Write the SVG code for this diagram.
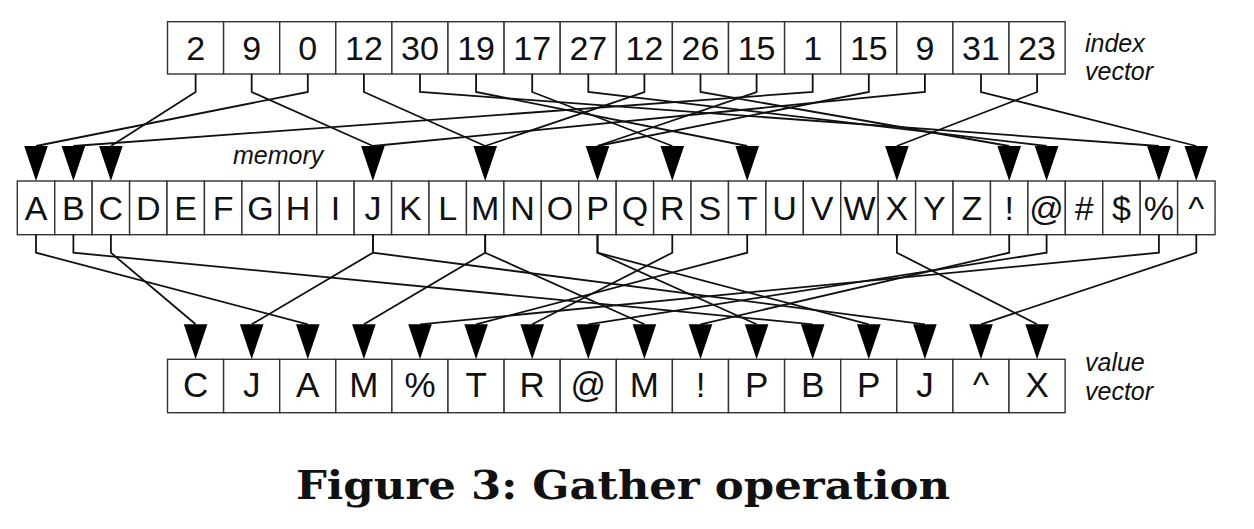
<svg xmlns="http://www.w3.org/2000/svg" xmlns:xlink="http://www.w3.org/1999/xlink" width="1254" height="529" viewBox="0 0 1254 529">
<style>
.cell{fill:#fff;stroke:#333;stroke-width:1.4}
.t{font-family:"Liberation Sans",Arial,sans-serif;font-size:34px;fill:#111;text-anchor:middle}
.tv{font-family:"Liberation Sans",Arial,sans-serif;font-size:35px;fill:#111;text-anchor:middle}
.lab{font-family:"Liberation Sans",Arial,sans-serif;font-size:25px;font-style:italic;fill:#111}
.c{fill:none;stroke:#111;stroke-width:1.8;stroke-linejoin:miter}
.ah{fill:#000}
</style>
<defs>
<path id="tri" class="ah" d="M-11.8,-35 L11.8,-35 L0,0 Z"/>
</defs>
<rect width="1254" height="529" fill="#fff"/>

<g id="index-vector">
<g id="idx-0"><rect class="cell" x="167.5" y="21.7" width="56.1" height="52.3"/><text class="t" x="195.6" y="60">2</text></g>
<g id="idx-1"><rect class="cell" x="223.6" y="21.7" width="56.1" height="52.3"/><text class="t" x="251.7" y="60">9</text></g>
<g id="idx-2"><rect class="cell" x="279.7" y="21.7" width="56.1" height="52.3"/><text class="t" x="307.8" y="60">0</text></g>
<g id="idx-3"><rect class="cell" x="335.8" y="21.7" width="56.1" height="52.3"/><text class="t" x="363.9" y="60">12</text></g>
<g id="idx-4"><rect class="cell" x="391.9" y="21.7" width="56.1" height="52.3"/><text class="t" x="420" y="60">30</text></g>
<g id="idx-5"><rect class="cell" x="448" y="21.7" width="56.1" height="52.3"/><text class="t" x="476.1" y="60">19</text></g>
<g id="idx-6"><rect class="cell" x="504.1" y="21.7" width="56.1" height="52.3"/><text class="t" x="532.2" y="60">17</text></g>
<g id="idx-7"><rect class="cell" x="560.2" y="21.7" width="56.1" height="52.3"/><text class="t" x="588.3" y="60">27</text></g>
<g id="idx-8"><rect class="cell" x="616.3" y="21.7" width="56.1" height="52.3"/><text class="t" x="644.4" y="60">12</text></g>
<g id="idx-9"><rect class="cell" x="672.4" y="21.7" width="56.1" height="52.3"/><text class="t" x="700.5" y="60">26</text></g>
<g id="idx-10"><rect class="cell" x="728.5" y="21.7" width="56.1" height="52.3"/><text class="t" x="756.6" y="60">15</text></g>
<g id="idx-11"><rect class="cell" x="784.6" y="21.7" width="56.1" height="52.3"/><text class="t" x="812.7" y="60">1</text></g>
<g id="idx-12"><rect class="cell" x="840.7" y="21.7" width="56.1" height="52.3"/><text class="t" x="868.8" y="60">15</text></g>
<g id="idx-13"><rect class="cell" x="896.8" y="21.7" width="56.1" height="52.3"/><text class="t" x="924.9" y="60">9</text></g>
<g id="idx-14"><rect class="cell" x="952.9" y="21.7" width="56.1" height="52.3"/><text class="t" x="981" y="60">31</text></g>
<g id="idx-15"><rect class="cell" x="1009" y="21.7" width="56.1" height="52.3"/><text class="t" x="1037.1" y="60">23</text></g>
<text id="index-label" class="lab"><tspan x="1085" y="52">index</tspan><tspan x="1085" y="79.5">vector</tspan></text>
</g>

<g id="memory">
<text id="memory-label" class="lab" x="233" y="164">memory</text>
<g id="mem-A"><rect class="cell" x="17.3" y="181" width="37.43" height="53.7"/><text class="t" x="36" y="220">A</text></g>
<g id="mem-B"><rect class="cell" x="54.73" y="181" width="37.43" height="53.7"/><text class="t" x="73.4" y="220">B</text></g>
<g id="mem-C"><rect class="cell" x="92.16" y="181" width="37.43" height="53.7"/><text class="t" x="110.9" y="220">C</text></g>
<g id="mem-D"><rect class="cell" x="129.59" y="181" width="37.43" height="53.7"/><text class="t" x="148.3" y="220">D</text></g>
<g id="mem-E"><rect class="cell" x="167.02" y="181" width="37.43" height="53.7"/><text class="t" x="185.7" y="220">E</text></g>
<g id="mem-F"><rect class="cell" x="204.45" y="181" width="37.43" height="53.7"/><text class="t" x="223.2" y="220">F</text></g>
<g id="mem-G"><rect class="cell" x="241.88" y="181" width="37.43" height="53.7"/><text class="t" x="260.6" y="220">G</text></g>
<g id="mem-H"><rect class="cell" x="279.31" y="181" width="37.43" height="53.7"/><text class="t" x="298" y="220">H</text></g>
<g id="mem-I"><rect class="cell" x="316.74" y="181" width="37.43" height="53.7"/><text class="t" x="335.5" y="220">I</text></g>
<g id="mem-J"><rect class="cell" x="354.17" y="181" width="37.43" height="53.7"/><text class="t" x="372.9" y="220">J</text></g>
<g id="mem-K"><rect class="cell" x="391.6" y="181" width="37.43" height="53.7"/><text class="t" x="410.3" y="220">K</text></g>
<g id="mem-L"><rect class="cell" x="429.03" y="181" width="37.43" height="53.7"/><text class="t" x="447.7" y="220">L</text></g>
<g id="mem-M"><rect class="cell" x="466.46" y="181" width="37.43" height="53.7"/><text class="t" x="485.2" y="220">M</text></g>
<g id="mem-N"><rect class="cell" x="503.89" y="181" width="37.43" height="53.7"/><text class="t" x="522.6" y="220">N</text></g>
<g id="mem-O"><rect class="cell" x="541.32" y="181" width="37.43" height="53.7"/><text class="t" x="560" y="220">O</text></g>
<g id="mem-P"><rect class="cell" x="578.75" y="181" width="37.43" height="53.7"/><text class="t" x="597.5" y="220">P</text></g>
<g id="mem-Q"><rect class="cell" x="616.18" y="181" width="37.43" height="53.7"/><text class="t" x="634.9" y="220">Q</text></g>
<g id="mem-R"><rect class="cell" x="653.61" y="181" width="37.43" height="53.7"/><text class="t" x="672.3" y="220">R</text></g>
<g id="mem-S"><rect class="cell" x="691.04" y="181" width="37.43" height="53.7"/><text class="t" x="709.8" y="220">S</text></g>
<g id="mem-T"><rect class="cell" x="728.47" y="181" width="37.43" height="53.7"/><text class="t" x="747.2" y="220">T</text></g>
<g id="mem-U"><rect class="cell" x="765.9" y="181" width="37.43" height="53.7"/><text class="t" x="784.6" y="220">U</text></g>
<g id="mem-V"><rect class="cell" x="803.33" y="181" width="37.43" height="53.7"/><text class="t" x="822" y="220">V</text></g>
<g id="mem-W"><rect class="cell" x="840.76" y="181" width="37.43" height="53.7"/><text class="t" x="859.5" y="220">W</text></g>
<g id="mem-X"><rect class="cell" x="878.19" y="181" width="37.43" height="53.7"/><text class="t" x="896.9" y="220">X</text></g>
<g id="mem-Y"><rect class="cell" x="915.62" y="181" width="37.43" height="53.7"/><text class="t" x="934.3" y="220">Y</text></g>
<g id="mem-Z"><rect class="cell" x="953.05" y="181" width="37.43" height="53.7"/><text class="t" x="971.8" y="220">Z</text></g>
<g id="mem-excl"><rect class="cell" x="990.48" y="181" width="37.43" height="53.7"/><text class="t" x="1009.2" y="220">!</text></g>
<g id="mem-at"><rect class="cell" x="1027.91" y="181" width="37.43" height="53.7"/><text class="t" x="1046.6" y="220">@</text></g>
<g id="mem-hash"><rect class="cell" x="1065.34" y="181" width="37.43" height="53.7"/><text class="t" x="1084.1" y="220">#</text></g>
<g id="mem-dollar"><rect class="cell" x="1102.77" y="181" width="37.43" height="53.7"/><text class="t" x="1121.5" y="220">$</text></g>
<g id="mem-pct"><rect class="cell" x="1140.2" y="181" width="37.43" height="53.7"/><text class="t" x="1158.9" y="220">%</text></g>
<g id="mem-caret"><rect class="cell" x="1177.63" y="181" width="37.43" height="53.7"/><text class="t" x="1196.3" y="220">^</text></g>
</g>

<g id="value-vector">
<g id="val-0"><rect class="cell" x="167.5" y="359.3" width="56.1" height="53.4"/><text class="tv" x="195.6" y="397">C</text></g>
<g id="val-1"><rect class="cell" x="223.6" y="359.3" width="56.1" height="53.4"/><text class="tv" x="251.7" y="397">J</text></g>
<g id="val-2"><rect class="cell" x="279.7" y="359.3" width="56.1" height="53.4"/><text class="tv" x="307.8" y="397">A</text></g>
<g id="val-3"><rect class="cell" x="335.8" y="359.3" width="56.1" height="53.4"/><text class="tv" x="363.9" y="397">M</text></g>
<g id="val-4"><rect class="cell" x="391.9" y="359.3" width="56.1" height="53.4"/><text class="tv" x="420" y="397">%</text></g>
<g id="val-5"><rect class="cell" x="448" y="359.3" width="56.1" height="53.4"/><text class="tv" x="476.1" y="397">T</text></g>
<g id="val-6"><rect class="cell" x="504.1" y="359.3" width="56.1" height="53.4"/><text class="tv" x="532.2" y="397">R</text></g>
<g id="val-7"><rect class="cell" x="560.2" y="359.3" width="56.1" height="53.4"/><text class="tv" x="588.3" y="397">@</text></g>
<g id="val-8"><rect class="cell" x="616.3" y="359.3" width="56.1" height="53.4"/><text class="tv" x="644.4" y="397">M</text></g>
<g id="val-9"><rect class="cell" x="672.4" y="359.3" width="56.1" height="53.4"/><text class="tv" x="700.5" y="397">!</text></g>
<g id="val-10"><rect class="cell" x="728.5" y="359.3" width="56.1" height="53.4"/><text class="tv" x="756.6" y="397">P</text></g>
<g id="val-11"><rect class="cell" x="784.6" y="359.3" width="56.1" height="53.4"/><text class="tv" x="812.7" y="397">B</text></g>
<g id="val-12"><rect class="cell" x="840.7" y="359.3" width="56.1" height="53.4"/><text class="tv" x="868.8" y="397">P</text></g>
<g id="val-13"><rect class="cell" x="896.8" y="359.3" width="56.1" height="53.4"/><text class="tv" x="924.9" y="397">J</text></g>
<g id="val-14"><rect class="cell" x="952.9" y="359.3" width="56.1" height="53.4"/><text class="tv" x="981" y="397">^</text></g>
<g id="val-15"><rect class="cell" x="1009" y="359.3" width="56.1" height="53.4"/><text class="tv" x="1037.1" y="397">X</text></g>
<text id="value-label" class="lab"><tspan x="1085" y="371">value</tspan><tspan x="1085" y="399.5">vector</tspan></text>
</g>

<g id="connectors">
<!-- index -> memory -->
<polyline class="c" points="195.6,74 195.6,92 110.9,146"/>
<polyline class="c" points="251.7,74 251.7,92 372.9,146"/>
<polyline class="c" points="307.8,74 307.8,92 36,146"/>
<polyline class="c" points="363.9,74 363.9,92 485.2,146"/>
<polyline class="c" points="420,74 420,92 1158.9,146"/>
<polyline class="c" points="476.1,74 476.1,92 747.2,146"/>
<polyline class="c" points="532.2,74 532.2,92 672.3,146"/>
<polyline class="c" points="588.3,74 588.3,92 1046.6,146"/>
<polyline class="c" points="644.4,74 644.4,92 485.2,146"/>
<polyline class="c" points="700.5,74 700.5,92 1009.2,146"/>
<polyline class="c" points="756.6,74 756.6,92 597.5,146"/>
<polyline class="c" points="812.7,74 812.7,92 73.4,146"/>
<polyline class="c" points="868.8,74 868.8,92 597.5,146"/>
<polyline class="c" points="924.9,74 924.9,92 372.9,146"/>
<polyline class="c" points="981,74 981,92 1196.3,146"/>
<polyline class="c" points="1037.1,74 1037.1,92 896.9,146"/>
<!-- memory arrowheads -->
<use xlink:href="#tri" x="36" y="181"/>
<use xlink:href="#tri" x="73.4" y="181"/>
<use xlink:href="#tri" x="110.9" y="181"/>
<use xlink:href="#tri" x="372.9" y="181"/>
<use xlink:href="#tri" x="485.2" y="181"/>
<use xlink:href="#tri" x="597.5" y="181"/>
<use xlink:href="#tri" x="672.3" y="181"/>
<use xlink:href="#tri" x="747.2" y="181"/>
<use xlink:href="#tri" x="896.9" y="181"/>
<use xlink:href="#tri" x="1009.2" y="181"/>
<use xlink:href="#tri" x="1046.6" y="181"/>
<use xlink:href="#tri" x="1158.9" y="181"/>
<use xlink:href="#tri" x="1196.3" y="181"/>
<!-- memory -> value -->
<polyline class="c" points="110.9,234.7 110.9,252.7 195.6,324.3"/>
<polyline class="c" points="372.9,234.7 372.9,252.7 251.7,324.3"/>
<polyline class="c" points="36,234.7 36,252.7 307.8,324.3"/>
<polyline class="c" points="485.2,234.7 485.2,252.7 363.9,324.3"/>
<polyline class="c" points="1158.9,234.7 1158.9,252.7 420,324.3"/>
<polyline class="c" points="747.2,234.7 747.2,252.7 476.1,324.3"/>
<polyline class="c" points="672.3,234.7 672.3,252.7 532.2,324.3"/>
<polyline class="c" points="1046.6,234.7 1046.6,252.7 588.3,324.3"/>
<polyline class="c" points="485.2,234.7 485.2,252.7 644.4,324.3"/>
<polyline class="c" points="1009.2,234.7 1009.2,252.7 700.5,324.3"/>
<polyline class="c" points="597.5,234.7 597.5,252.7 756.6,324.3"/>
<polyline class="c" points="73.4,234.7 73.4,252.7 812.7,324.3"/>
<polyline class="c" points="597.5,234.7 597.5,252.7 868.8,324.3"/>
<polyline class="c" points="372.9,234.7 372.9,252.7 924.9,324.3"/>
<polyline class="c" points="1196.3,234.7 1196.3,252.7 981,324.3"/>
<polyline class="c" points="896.9,234.7 896.9,252.7 1037.1,324.3"/>
<!-- value arrowheads -->
<use xlink:href="#tri" x="195.6" y="359.3"/>
<use xlink:href="#tri" x="251.7" y="359.3"/>
<use xlink:href="#tri" x="307.8" y="359.3"/>
<use xlink:href="#tri" x="363.9" y="359.3"/>
<use xlink:href="#tri" x="420" y="359.3"/>
<use xlink:href="#tri" x="476.1" y="359.3"/>
<use xlink:href="#tri" x="532.2" y="359.3"/>
<use xlink:href="#tri" x="588.3" y="359.3"/>
<use xlink:href="#tri" x="644.4" y="359.3"/>
<use xlink:href="#tri" x="700.5" y="359.3"/>
<use xlink:href="#tri" x="756.6" y="359.3"/>
<use xlink:href="#tri" x="812.7" y="359.3"/>
<use xlink:href="#tri" x="868.8" y="359.3"/>
<use xlink:href="#tri" x="924.9" y="359.3"/>
<use xlink:href="#tri" x="981" y="359.3"/>
<use xlink:href="#tri" x="1037.1" y="359.3"/>
</g>

<text id="caption" x="296" y="499" font-family="'DejaVu Serif','Liberation Serif',serif" font-weight="bold" font-size="40" fill="#111" textLength="654" lengthAdjust="spacingAndGlyphs">Figure 3:  Gather operation</text>
</svg>
